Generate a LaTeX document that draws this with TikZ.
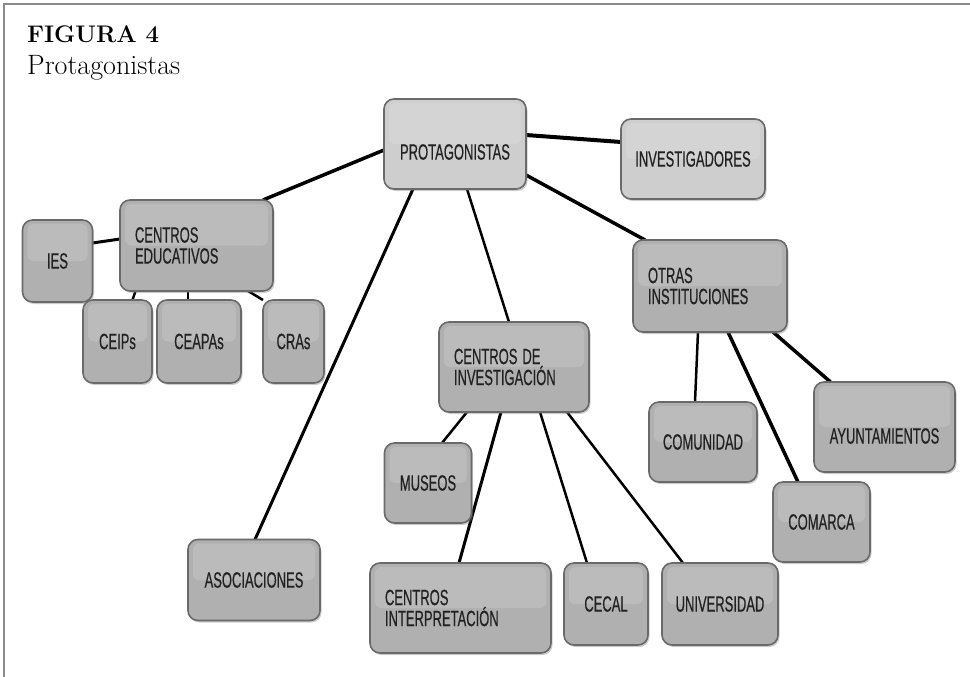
\documentclass[tikz,border=0pt]{standalone}
\usepackage{fontspec}
\usepackage{xcolor}
\usepackage{tikz}
\usetikzlibrary{shadows,backgrounds}
\newfontfamily\boxfont[FakeStretch=0.59, FakeBold=0.5]{Liberation Sans}
\definecolor{frameGray}{HTML}{8C8C8C}
\definecolor{boxFill}{HTML}{B0B0B0}
\definecolor{boxFillLight}{HTML}{CECECE}
\definecolor{boxEdge}{HTML}{6A6A6A}
\definecolor{textDark}{HTML}{222222}
\newcommand{\lowered}[2]{\raisebox{-#1}[\height][\depth]{#2}}

\begin{document}
\begin{tikzpicture}[x=1pt, y=-1pt,
        topic/.style={
            draw=boxEdge, line width=1.6pt, fill=boxFill,
            rounded corners=10pt, inner sep=0pt, outer sep=0pt,
            font=\boxfont\fontsize{22}{21}\selectfont, text=textDark,
            align=center,
            drop shadow={shadow xshift=1.5pt, shadow yshift=-2pt, opacity=0.4},
            path picture={
                \fill[white, opacity=0.14, rounded corners=6pt]
                ([xshift=5pt, yshift=-4pt]path picture bounding box.north west)
                rectangle ([xshift=-5pt]path picture bounding box.east);
            }
        },
        topiclight/.style={topic, fill=boxFillLight},
        twoline/.style={align=left, inner xsep=15pt, text width=#1},
        link/.style={black, line width=#1}
    ]

            \useasboundingbox (0,0) rectangle (970,677);
            \draw[frameGray, line width=2pt] (4,677) -- (4,4) -- (970,4);

            \node[anchor=base west, inner sep=0pt, font=\bfseries\fontsize{24}{28}\selectfont] (title) at (27,43) {FIGURA \oldstylenums{4}};
            \node[anchor=base west, inner sep=0pt, font=\fontsize{28}{32}\selectfont] (subtitle) at (27,75) {Protagonistas};

            % boxes
            \node[topiclight, minimum width=142pt, minimum height=90pt] (prot) at (455,144) {\lowered{8pt}{PROTAGONISTAS}};
            \node[topiclight, minimum width=144pt, minimum height=80pt] (invest) at (693,159) {INVESTIGADORES};
            \node[topic, twoline=123pt, minimum height=91pt] (educ) at (196.5,245.5) {CENTROS\\EDUCATIVOS};
            \node[topic, minimum width=70pt, minimum height=82pt] (ies) at (57.5,261) {IES};
            \node[topic, minimum width=69pt, minimum height=83pt] (ceip) at (117.5,341.5) {CEIPs};
            \node[topic, minimum width=84pt, minimum height=83pt] (ceapa) at (199,341.5) {CEAPAs};
            \node[topic, minimum width=61pt, minimum height=83pt] (cra) at (293.5,341.5) {CRAs};
            \node[topic, twoline=120pt, minimum height=90pt] (inv) at (514,367) {CENTROS\hspace{5pt}DE\\INVESTIGACIÓN};
            \node[topic, twoline=124pt, minimum height=92pt] (otras) at (710,286) {OTRAS\\INSTITUCIONES};
            \node[topic, minimum width=87pt, minimum height=80pt] (museo) at (428,483) {MUSEOS};
            \node[topic, minimum width=108pt, minimum height=80pt] (comun) at (703,442) {COMUNIDAD};
            \node[topic, minimum width=141pt, minimum height=90pt] (ayto) at (884.5,427) {\lowered{9pt}{AYUNTAMIENTOS}};
            \node[topic, minimum width=97pt, minimum height=80pt] (comarca) at (821.5,522) {COMARCA};
            \node[topic, minimum width=132pt, minimum height=81pt] (asoc) at (254,580) {ASOCIACIONES};
            \node[topic, twoline=151pt, minimum height=90pt] (interp) at (460.5,608) {CENTROS\\INTERPRETACIÓN};
            \node[topic, minimum width=84pt, minimum height=82pt] (cecal) at (606,604) {CECAL};
            \node[topic, minimum width=116pt, minimum height=82pt] (univ) at (720,604) {UNIVERSIDAD};

            % connectors
            \begin{scope}[on background layer]
                \draw[link=4pt] ([yshift=9pt]prot.east) -- ([yshift=17pt]invest.west);
                \draw[link=3.5pt] ([yshift=-6pt]prot.west) -- ([xshift=-10pt]educ.north east);
                \draw[link=3pt] ([xshift=-42pt]prot.south) -- ([xshift=1pt]asoc.north);
                \draw[link=2.5pt] ([xshift=12pt]prot.south) -- ([xshift=-5pt]inv.north);
                \draw[link=3.5pt] ([yshift=-31pt]prot.east) -- ([xshift=12pt]otras.north west);

                \draw[link=3pt] ([yshift=18pt]ies.east) -- ([yshift=6.5pt]educ.west);
                \draw[link=2.5pt] ([xshift=-61pt]educ.south) -- ([xshift=15pt]ceip.north);
                \draw[link=2.5pt] ([xshift=-8.5pt]educ.south) -- ([xshift=-11pt]ceapa.north);
                \draw[link=2.5pt] ([xshift=51.5pt]educ.south) -- (cra.north west);

                \draw[link=2.5pt] ([xshift=-47pt]inv.south) -- ([xshift=14pt]museo.north);
                \draw[link=3pt] ([xshift=-13pt]inv.south) -- ([xshift=-1.5pt]interp.north);
                \draw[link=2.5pt] ([xshift=26pt]inv.south) -- ([xshift=-19pt]cecal.north);
                \draw[link=2.5pt] ([xshift=53pt]inv.south) -- ([xshift=-37pt]univ.north);

                \draw[link=2.5pt] ([xshift=-12pt]otras.south) -- ([xshift=-8pt]comun.north);
                \draw[link=3.5pt] ([xshift=18pt]otras.south) -- ([xshift=-23.5pt]comarca.north);
                \draw[link=3.5pt] ([xshift=63pt]otras.south) -- ([xshift=-54pt]ayto.north);
            \end{scope}

        \end{tikzpicture}
\end{document}
